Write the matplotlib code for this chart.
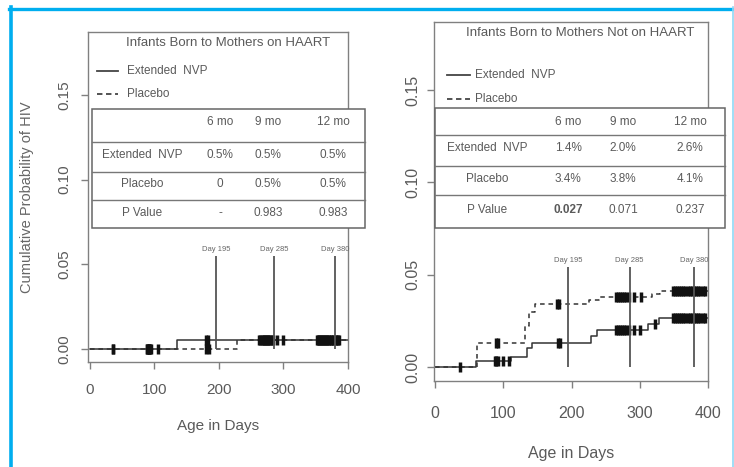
import matplotlib
matplotlib.use("Agg")
import matplotlib.pyplot as plt
from matplotlib.patches import Rectangle
from matplotlib.lines import Line2D
import numpy as np

plt.rcParams["font.family"] = ["Liberation Sans", "DejaVu Sans"]

# ---- data ----
# left panel: mothers on HAART
haart_nvp_t = [0, 135]
haart_nvp_p = [0.0, 0.005]
haart_pla_t = [0, 228]
haart_pla_p = [0.0, 0.005]
haart_nvp_cens = [36, 88, 90, 92, 94, 106, 180, 183, 262, 266, 270, 273, 276, 279, 283, 290, 300,
                  352, 355, 358, 361, 364, 367, 370, 374, 378, 382, 386]
haart_pla_cens = [36, 89, 91, 93, 180, 184, 264, 268, 272, 275, 278, 282,
                  353, 356, 360, 363, 366, 369, 373, 377, 381, 385]

# right panel: mothers not on HAART
nohaart_nvp_t = [0, 60, 112, 135, 142, 228, 238, 312, 328]
nohaart_nvp_p = [0.0, 0.0035, 0.0055, 0.010, 0.013, 0.017, 0.020, 0.0235, 0.0265]
nohaart_pla_t = [0, 62, 132, 138, 146, 226, 240, 318, 330]
nohaart_pla_p = [0.0, 0.013, 0.022, 0.030, 0.034, 0.036, 0.038, 0.0395, 0.041]
nohaart_nvp_cens = [37, 88, 90, 92, 100, 108, 180, 183, 265, 268, 271, 274, 277, 280, 284, 292, 300,
                    323, 349, 352, 355, 358, 361, 364, 367, 370, 373, 376, 379, 382, 385, 388, 392, 396]
nohaart_pla_cens = [90, 92, 179, 182, 265, 268, 271, 274, 277, 280, 284, 292, 302,
                    349, 352, 355, 358, 361, 364, 367, 370, 373, 376, 379, 382, 385, 388, 392, 396]

day_marks = [195, 285, 380]
day_labels = ["Day 195", "Day 285", "Day 380"]

col_heads = ["6 mo", "9 mo", "12 mo"]
row_names = ["Extended  NVP", "Placebo", "P Value"]
haart_table = [["0.5%", "0.5%", "0.5%"], ["0", "0.5%", "0.5%"], ["-", "0.983", "0.983"]]
nohaart_table = [["1.4%", "2.0%", "2.6%"], ["3.4%", "3.8%", "4.1%"], ["0.027", "0.071", "0.237"]]

W, H = 734, 467
fig = plt.figure(figsize=(W / 100, H / 100), dpi=100)


def fx(px):
    return px / W


def fy(py):
    return 1 - py / H


TXT = "#5a5a5a"
LINE = "#333333"
FRAME = "#808080"


def step_at(t, p, x):
    i = np.searchsorted(t, x, side="right") - 1
    return np.array(p)[i]


def panel(box, xlim, ylim, tsz, xpad, ypad):
    l, r, t, b = box
    ax = fig.add_axes([fx(l), fy(b), fx(r) - fx(l), fy(t) - fy(b)])
    ax.set_xlim(*xlim)
    ax.set_ylim(*ylim)
    for s in ax.spines.values():
        s.set_color(FRAME)
        s.set_linewidth(1.0)
    ax.set_xticks([0, 100, 200, 300, 400])
    ax.set_yticks([0, 0.05, 0.10, 0.15])
    ax.set_yticklabels(["0.00", "0.05", "0.10", "0.15"], rotation=90, va="center")
    ax.tick_params(axis="x", length=5, width=1, color=FRAME, labelsize=tsz, labelcolor=TXT, pad=xpad)
    ax.tick_params(axis="y", length=5, width=1, color=FRAME, labelsize=tsz, labelcolor=TXT, pad=ypad)
    return ax


def curves(ax, nvp_t, nvp_p, pla_t, pla_p, nvp_c, pla_c, top):
    ax.step(list(nvp_t) + [400], list(nvp_p) + [nvp_p[-1]], where="post", color=LINE, lw=1.1)
    ax.step(list(pla_t) + [400], list(pla_p) + [pla_p[-1]], where="post", color=LINE, lw=1.1,
            ls=(0, (3, 2.5)))
    ax.plot(nvp_c, step_at(nvp_t, nvp_p, nvp_c), ls="none", marker="|", ms=7.5, mew=2.5, color="#111111")
    ax.plot(pla_c, step_at(pla_t, pla_p, pla_c), ls="none", marker="|", ms=7.5, mew=2.5, color="#111111")
    ax.vlines(day_marks, 0, top, color="#555555", lw=1.3)
    for d, lab in zip(day_marks, day_labels):
        ax.text(d, top + 0.0015, lab, fontsize=5.5, color="#666666", ha="center", va="bottom")


def legend_table(title, tx, ty, lx0, lx1, ly, txx, tbox, rows, cols, row_y, vals, fsz):
    fig.text(fx(tx), fy(ty), title, fontsize=fsz + 1, color=TXT, ha="center", va="center")
    fig.add_artist(Line2D([fx(lx0), fx(lx1)], [fy(ly[0])] * 2, color="#444444", lw=1.3))
    fig.add_artist(Line2D([fx(lx0), fx(lx1)], [fy(ly[1])] * 2, color="#444444", lw=1.3,
                          ls=(0, (3, 2))))
    fig.text(fx(txx), fy(ly[0]), "Extended  NVP", fontsize=fsz, color=TXT, va="center")
    fig.text(fx(txx), fy(ly[1]), "Placebo", fontsize=fsz, color=TXT, va="center")
    l, r, t, b = tbox
    fig.add_artist(Rectangle((fx(l), fy(b)), fx(r) - fx(l), fy(t) - fy(b), transform=fig.transFigure,
                             facecolor="white", edgecolor="#666666", lw=1.1, zorder=5))
    for yl in rows:
        fig.add_artist(Line2D([fx(l), fx(r)], [fy(yl)] * 2, color="#777777", lw=1.0, zorder=6))
    for c, h in zip(cols[1:], col_heads):
        fig.text(fx(c), fy(row_y[0]), h, fontsize=fsz, color=TXT, ha="center", va="center", zorder=7)
    for i, name in enumerate(row_names):
        fig.text(fx(cols[0]), fy(row_y[i + 1]), name, fontsize=fsz, color=TXT, ha="center",
                 va="center", zorder=7)
        for j, v in enumerate(vals[i]):
            bold = "bold" if (v == "0.027") else "normal"
            fig.text(fx(cols[j + 1]), fy(row_y[i + 1]), v, fontsize=fsz, color=TXT, ha="center",
                     va="center", zorder=7, fontweight=bold)


# left panel: px box (left, right, top, bottom)
ax1 = panel((88, 348, 32, 362), (-3.1, 400), (-0.0077, 0.1872), 11, 10, 7)
curves(ax1, haart_nvp_t, haart_nvp_p, haart_pla_t, haart_pla_p, haart_nvp_cens, haart_pla_cens, 0.055)
ax1.set_xlabel("Age in Days", fontsize=11, color=TXT, labelpad=16)
fig.text(fx(27), fy(197), "Cumulative Probability of HIV", rotation=90, fontsize=10.5, color="#666666",
         ha="center", va="center")
legend_table("Infants Born to Mothers on HAART", 228, 43, 97, 118, (71, 94), 127,
             (92, 365, 109, 228), [142, 172, 200], [142, 220, 268, 333], [122, 155, 184, 213],
             haart_table, 8.5)

# right panel
ax2 = panel((434, 708, 22, 381), (-1.5, 400), (-0.0076, 0.1868), 11.5, 13, 5)
curves(ax2, nohaart_nvp_t, nohaart_nvp_p, nohaart_pla_t, nohaart_pla_p, nohaart_nvp_cens,
       nohaart_pla_cens, 0.054)
ax2.set_xlabel("Age in Days", fontsize=11.5, color=TXT, labelpad=18)
legend_table("Infants Born to Mothers Not on HAART", 580, 33, 447, 470, (75, 99), 475,
             (435, 725, 108, 228), [135, 166, 195], [487, 568, 623, 690], [122, 148, 179, 210],
             nohaart_table, 8.5)

# blue frame around the screenshot
fig.add_artist(Line2D([fx(9), fx(734)], [fy(8.5)] * 2, color="#00AEEF", lw=2.4))
fig.add_artist(Line2D([fx(10.5)] * 2, [fy(7), fy(467)], color="#00AEEF", lw=2.6))
fig.add_artist(Line2D([fx(732.5)] * 2, [fy(7), fy(467)], color="#8fd8f5", lw=1.2))

fig.savefig("out.png", dpi=100)
